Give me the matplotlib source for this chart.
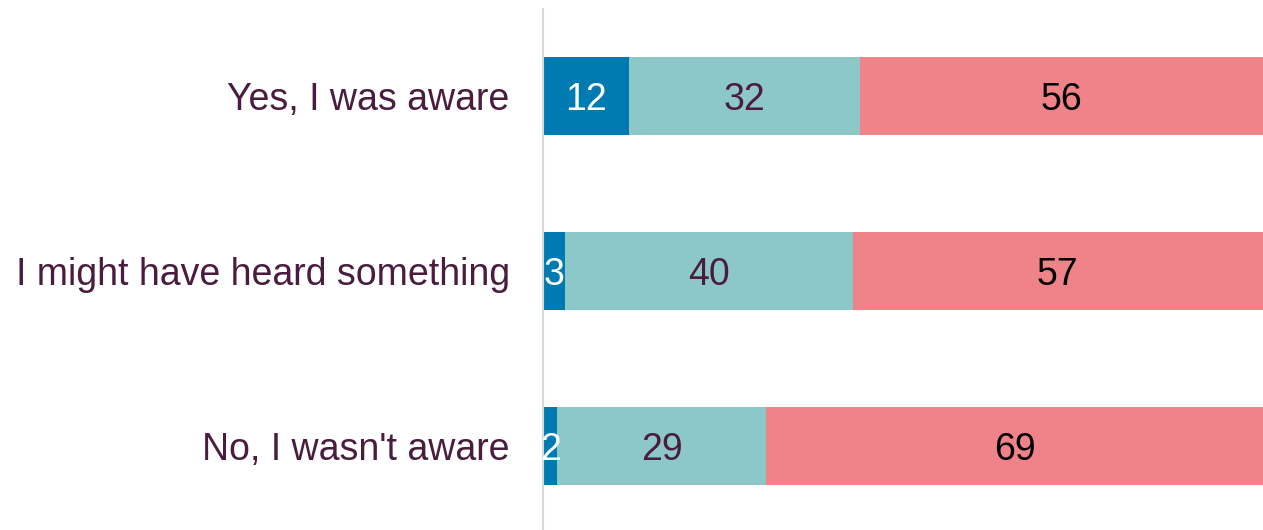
import numpy as np
import matplotlib.pyplot as plt

# datos
categories = ["Yes, I was aware", "I might have heard something", "No, I wasn't aware"]
seg_a = [12, 3, 2]
seg_b = [32, 40, 29]
seg_c = [56, 57, 69]

colors = ["#007BB2", "#8CC8C8", "#F08389"]
text_colors = ["white", "#4A1D3F", "black"]
purple = "#4A1D3F"

plt.rcParams['font.family'] = ['Liberation Sans', 'DejaVu Sans']

fig = plt.figure(figsize=(12.63, 5.30), dpi=100)
ax = fig.add_axes([543 / 1263, -3.5 / 530, 1 - 543 / 1263, 525 / 530])

y = np.arange(len(categories))
left = np.zeros(len(categories))
for vals, col, tcol in zip([seg_a, seg_b, seg_c], colors, text_colors):
    vals = np.array(vals, dtype=float)
    bars = ax.barh(y, vals, left=left, height=0.446, color=col, edgecolor='none')
    for b, v in zip(bars, vals):
        ax.text(b.get_x() + b.get_width() / 2, b.get_y() + b.get_height() / 2,
                f"{int(v)}", ha='center', va='center_baseline', fontsize=27, color=tcol)
    left += vals

ax.set_xlim(0, 100)
ax.set_ylim(2.5, -0.5)
ax.set_yticks(y)
ax.set_yticklabels(categories, fontsize=27, color=purple)
ax.tick_params(axis='y', length=0, pad=24)
ax.set_xticks([])
for s in ['top', 'right', 'bottom']:
    ax.spines[s].set_visible(False)
ax.spines['left'].set_color('#D9D9D9')
ax.spines['left'].set_linewidth(1.5)

fig.savefig("out.png", dpi=100)
